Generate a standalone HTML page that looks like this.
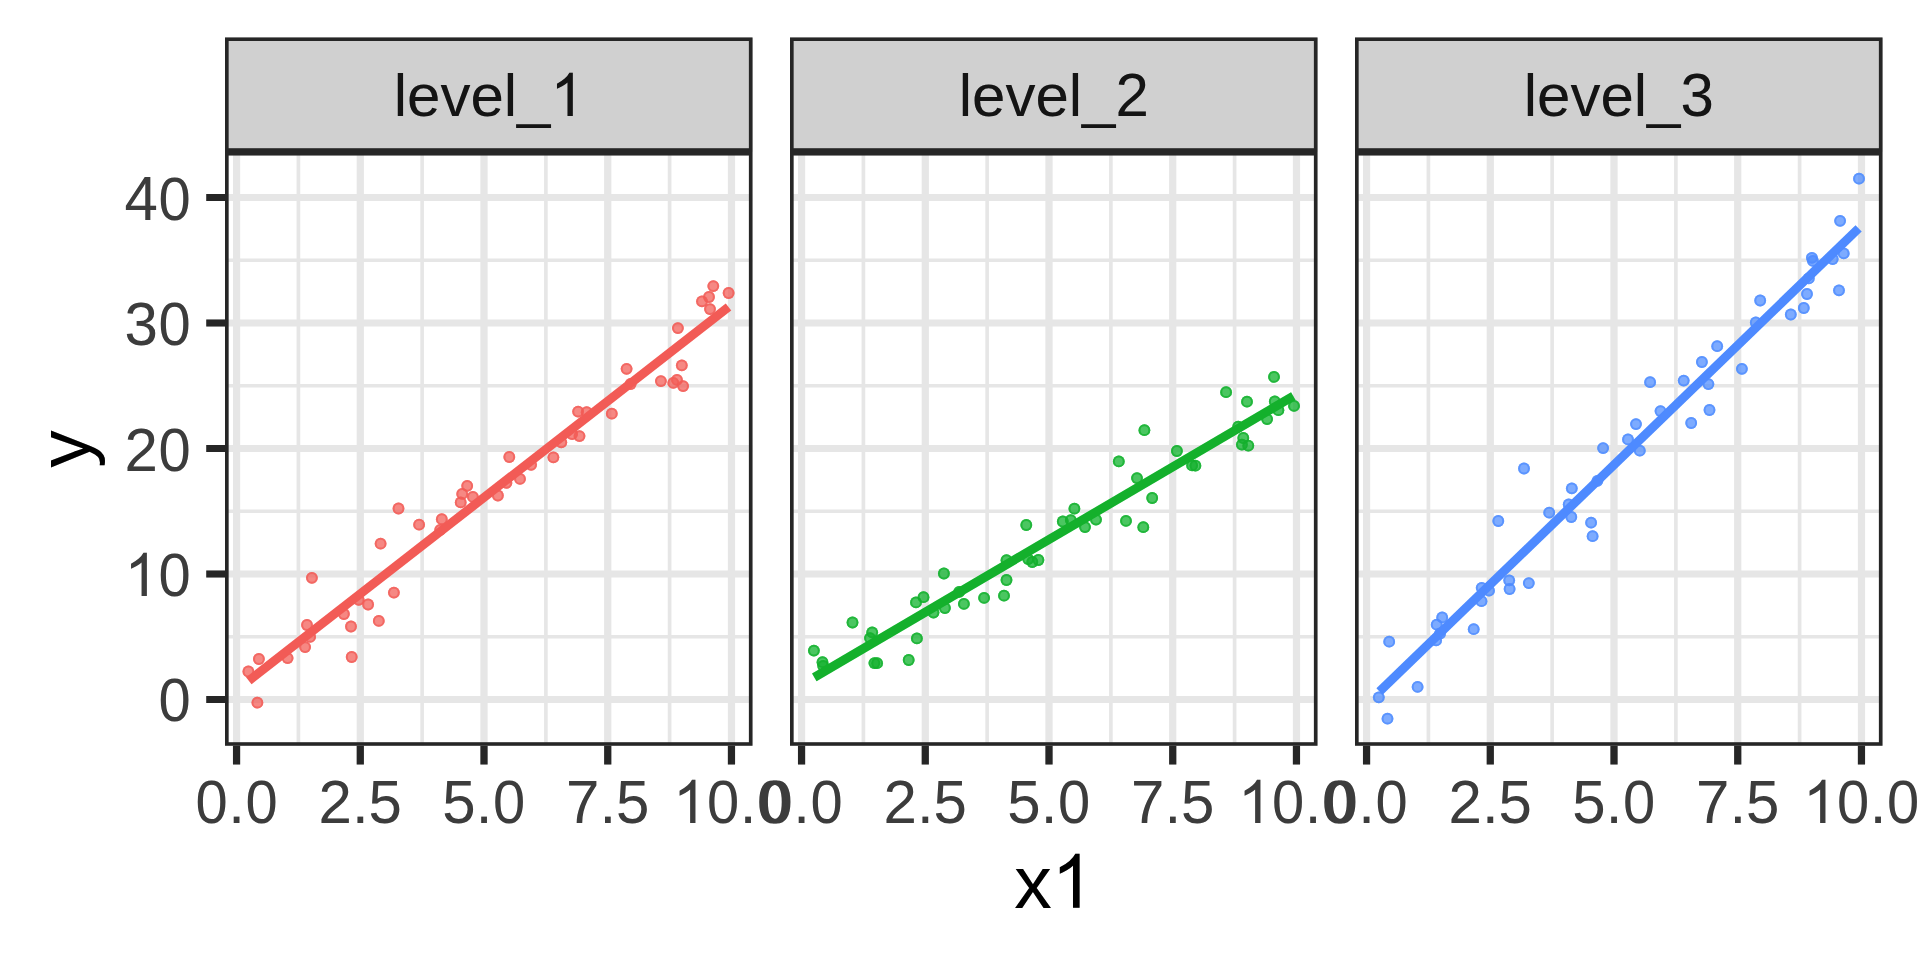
<!DOCTYPE html>
<html><head><meta charset="utf-8"><title>facet plot</title>
<style>html,body{margin:0;padding:0;background:#fff;width:1920px;height:960px;overflow:hidden}svg{display:block}text{font-family:"Liberation Sans",sans-serif;font-kerning:none}</style>
</head><body>
<svg width="1920" height="960" viewBox="0 0 1920 960">
<defs>
<clipPath id="c0"><rect x="225" y="151.8" width="527.5" height="594"/></clipPath>
<clipPath id="c1"><rect x="790" y="151.8" width="527.5" height="594"/></clipPath>
<clipPath id="c2"><rect x="1355" y="151.8" width="527.5" height="594"/></clipPath>
<filter id="gm" filterUnits="userSpaceOnUse" x="0" y="0" width="1920" height="960" color-interpolation-filters="sRGB"><feComponentTransfer><feFuncR type="table" tableValues="0 0.0111 0.0163 0.0205 0.024 0.0272 0.0301 0.0327 0.0353 0.0377 0.0399 0.0421 0.0444 0.0467 0.049 0.0514 0.0537 0.0561 0.0586 0.061 0.0635 0.066 0.0685 0.0711 0.0736 0.0762 0.0788 0.0815 0.0841 0.0868 0.0895 0.0922 0.095 0.0977 0.1005 0.1033 0.1061 0.109 0.1118 0.1147 0.1176 0.1205 0.1234 0.1264 0.1293 0.1323 0.1353 0.1383 0.1414 0.1444 0.1475 0.1506 0.1537 0.1568 0.1599 0.163 0.1662 0.1694 0.1726 0.1758 0.179 0.1822 0.1854 0.1887 0.192 0.1953 0.1986 0.2019 0.2052 0.2086 0.2119 0.2153 0.2187 0.2221 0.2255 0.2289 0.2323 0.2358 0.2392 0.2427 0.2462 0.2497 0.2532 0.2567 0.2603 0.2638 0.2674 0.2709 0.2745 0.2781 0.2817 0.2853 0.2889 0.2926 0.2962 0.2999 0.3036 0.3073 0.311 0.3147 0.3184 0.3221 0.3258 0.3296 0.3334 0.3371 0.3409 0.3447 0.3485 0.3523 0.3561 0.36 0.3638 0.3677 0.3715 0.3754 0.3793 0.3832 0.3871 0.391 0.3949 0.3989 0.4028 0.4068 0.4107 0.4147 0.4187 0.4227 0.4267 0.4307 0.4347 0.4387 0.4428 0.4468 0.4509 0.4549 0.459 0.4631 0.4672 0.4713 0.4754 0.4795 0.4837 0.4878 0.4919 0.4961 0.5003 0.5044 0.5086 0.5128 0.517 0.5212 0.5254 0.5296 0.5339 0.5381 0.5424 0.5466 0.5509 0.5552 0.5594 0.5637 0.568 0.5723 0.5767 0.581 0.5853 0.5897 0.594 0.5984 0.6027 0.6071 0.6115 0.6159 0.6202 0.6246 0.6291 0.6335 0.6379 0.6423 0.6468 0.6512 0.6557 0.6601 0.6646 0.6691 0.6736 0.6781 0.6826 0.6871 0.6916 0.6961 0.7007 0.7052 0.7097 0.7143 0.7188 0.7234 0.728 0.7326 0.7372 0.7418 0.7464 0.751 0.7556 0.7602 0.7648 0.7695 0.7741 0.7788 0.7834 0.7881 0.7928 0.7975 0.8021 0.8068 0.8115 0.8162 0.821 0.8257 0.8304 0.8351 0.8399 0.8446 0.8494 0.8542 0.8589 0.8637 0.8685 0.8733 0.8781 0.8829 0.8877 0.8925 0.8973 0.9021 0.907 0.9118 0.9166 0.9215 0.9264 0.9312 0.9361 0.941 0.9459 0.9507 0.9556 0.9605 0.9655 0.9704 0.9753 0.9802 0.9852 0.9901 0.995 1"/><feFuncG type="table" tableValues="0 0.0111 0.0163 0.0205 0.024 0.0272 0.0301 0.0327 0.0353 0.0377 0.0399 0.0421 0.0444 0.0467 0.049 0.0514 0.0537 0.0561 0.0586 0.061 0.0635 0.066 0.0685 0.0711 0.0736 0.0762 0.0788 0.0815 0.0841 0.0868 0.0895 0.0922 0.095 0.0977 0.1005 0.1033 0.1061 0.109 0.1118 0.1147 0.1176 0.1205 0.1234 0.1264 0.1293 0.1323 0.1353 0.1383 0.1414 0.1444 0.1475 0.1506 0.1537 0.1568 0.1599 0.163 0.1662 0.1694 0.1726 0.1758 0.179 0.1822 0.1854 0.1887 0.192 0.1953 0.1986 0.2019 0.2052 0.2086 0.2119 0.2153 0.2187 0.2221 0.2255 0.2289 0.2323 0.2358 0.2392 0.2427 0.2462 0.2497 0.2532 0.2567 0.2603 0.2638 0.2674 0.2709 0.2745 0.2781 0.2817 0.2853 0.2889 0.2926 0.2962 0.2999 0.3036 0.3073 0.311 0.3147 0.3184 0.3221 0.3258 0.3296 0.3334 0.3371 0.3409 0.3447 0.3485 0.3523 0.3561 0.36 0.3638 0.3677 0.3715 0.3754 0.3793 0.3832 0.3871 0.391 0.3949 0.3989 0.4028 0.4068 0.4107 0.4147 0.4187 0.4227 0.4267 0.4307 0.4347 0.4387 0.4428 0.4468 0.4509 0.4549 0.459 0.4631 0.4672 0.4713 0.4754 0.4795 0.4837 0.4878 0.4919 0.4961 0.5003 0.5044 0.5086 0.5128 0.517 0.5212 0.5254 0.5296 0.5339 0.5381 0.5424 0.5466 0.5509 0.5552 0.5594 0.5637 0.568 0.5723 0.5767 0.581 0.5853 0.5897 0.594 0.5984 0.6027 0.6071 0.6115 0.6159 0.6202 0.6246 0.6291 0.6335 0.6379 0.6423 0.6468 0.6512 0.6557 0.6601 0.6646 0.6691 0.6736 0.6781 0.6826 0.6871 0.6916 0.6961 0.7007 0.7052 0.7097 0.7143 0.7188 0.7234 0.728 0.7326 0.7372 0.7418 0.7464 0.751 0.7556 0.7602 0.7648 0.7695 0.7741 0.7788 0.7834 0.7881 0.7928 0.7975 0.8021 0.8068 0.8115 0.8162 0.821 0.8257 0.8304 0.8351 0.8399 0.8446 0.8494 0.8542 0.8589 0.8637 0.8685 0.8733 0.8781 0.8829 0.8877 0.8925 0.8973 0.9021 0.907 0.9118 0.9166 0.9215 0.9264 0.9312 0.9361 0.941 0.9459 0.9507 0.9556 0.9605 0.9655 0.9704 0.9753 0.9802 0.9852 0.9901 0.995 1"/><feFuncB type="table" tableValues="0 0.0111 0.0163 0.0205 0.024 0.0272 0.0301 0.0327 0.0353 0.0377 0.0399 0.0421 0.0444 0.0467 0.049 0.0514 0.0537 0.0561 0.0586 0.061 0.0635 0.066 0.0685 0.0711 0.0736 0.0762 0.0788 0.0815 0.0841 0.0868 0.0895 0.0922 0.095 0.0977 0.1005 0.1033 0.1061 0.109 0.1118 0.1147 0.1176 0.1205 0.1234 0.1264 0.1293 0.1323 0.1353 0.1383 0.1414 0.1444 0.1475 0.1506 0.1537 0.1568 0.1599 0.163 0.1662 0.1694 0.1726 0.1758 0.179 0.1822 0.1854 0.1887 0.192 0.1953 0.1986 0.2019 0.2052 0.2086 0.2119 0.2153 0.2187 0.2221 0.2255 0.2289 0.2323 0.2358 0.2392 0.2427 0.2462 0.2497 0.2532 0.2567 0.2603 0.2638 0.2674 0.2709 0.2745 0.2781 0.2817 0.2853 0.2889 0.2926 0.2962 0.2999 0.3036 0.3073 0.311 0.3147 0.3184 0.3221 0.3258 0.3296 0.3334 0.3371 0.3409 0.3447 0.3485 0.3523 0.3561 0.36 0.3638 0.3677 0.3715 0.3754 0.3793 0.3832 0.3871 0.391 0.3949 0.3989 0.4028 0.4068 0.4107 0.4147 0.4187 0.4227 0.4267 0.4307 0.4347 0.4387 0.4428 0.4468 0.4509 0.4549 0.459 0.4631 0.4672 0.4713 0.4754 0.4795 0.4837 0.4878 0.4919 0.4961 0.5003 0.5044 0.5086 0.5128 0.517 0.5212 0.5254 0.5296 0.5339 0.5381 0.5424 0.5466 0.5509 0.5552 0.5594 0.5637 0.568 0.5723 0.5767 0.581 0.5853 0.5897 0.594 0.5984 0.6027 0.6071 0.6115 0.6159 0.6202 0.6246 0.6291 0.6335 0.6379 0.6423 0.6468 0.6512 0.6557 0.6601 0.6646 0.6691 0.6736 0.6781 0.6826 0.6871 0.6916 0.6961 0.7007 0.7052 0.7097 0.7143 0.7188 0.7234 0.728 0.7326 0.7372 0.7418 0.7464 0.751 0.7556 0.7602 0.7648 0.7695 0.7741 0.7788 0.7834 0.7881 0.7928 0.7975 0.8021 0.8068 0.8115 0.8162 0.821 0.8257 0.8304 0.8351 0.8399 0.8446 0.8494 0.8542 0.8589 0.8637 0.8685 0.8733 0.8781 0.8829 0.8877 0.8925 0.8973 0.9021 0.907 0.9118 0.9166 0.9215 0.9264 0.9312 0.9361 0.941 0.9459 0.9507 0.9556 0.9605 0.9655 0.9704 0.9753 0.9802 0.9852 0.9901 0.995 1"/></feComponentTransfer></filter>
</defs>
<g filter="url(#gm)">
<rect x="0" y="0" width="1920" height="960" fill="#FFFFFF"/>
<g clip-path="url(#c0)">
<rect x="225" y="151.8" width="527.5" height="594" fill="#FFFFFF"/>
<path d="M225 636.75H752.5M225 511.25H752.5M225 385.75H752.5M225 260.25H752.5M298.42 151.8V745.8M422.15 151.8V745.8M545.87 151.8V745.8M669.6 151.8V745.8" stroke="#EBEBEB" stroke-width="3.6" fill="none"/>
<path d="M225 699.5H752.5M225 574H752.5M225 448.5H752.5M225 323H752.5M225 197.5H752.5M236.56 151.8V745.8M360.29 151.8V745.8M484.01 151.8V745.8M607.74 151.8V745.8M731.46 151.8V745.8" stroke="#EBEBEB" stroke-width="7.2" fill="none"/>
<g fill="#F56F6A" fill-opacity="0.7" stroke="#F56F6A" stroke-opacity="0.7" stroke-width="2">
<circle cx="248.4" cy="671.5" r="5.9" stroke="none"/><circle cx="248.4" cy="671.5" r="4.9" fill="none"/>
<circle cx="258.9" cy="659" r="5.9" stroke="none"/><circle cx="258.9" cy="659" r="4.9" fill="none"/>
<circle cx="257.4" cy="702.7" r="5.9" stroke="none"/><circle cx="257.4" cy="702.7" r="4.9" fill="none"/>
<circle cx="287.6" cy="658.1" r="5.9" stroke="none"/><circle cx="287.6" cy="658.1" r="4.9" fill="none"/>
<circle cx="305.1" cy="647.1" r="5.9" stroke="none"/><circle cx="305.1" cy="647.1" r="4.9" fill="none"/>
<circle cx="310.1" cy="636.9" r="5.9" stroke="none"/><circle cx="310.1" cy="636.9" r="4.9" fill="none"/>
<circle cx="307" cy="625" r="5.9" stroke="none"/><circle cx="307" cy="625" r="4.9" fill="none"/>
<circle cx="311.9" cy="577.8" r="5.9" stroke="none"/><circle cx="311.9" cy="577.8" r="4.9" fill="none"/>
<circle cx="343.9" cy="614" r="5.9" stroke="none"/><circle cx="343.9" cy="614" r="4.9" fill="none"/>
<circle cx="351" cy="626.5" r="5.9" stroke="none"/><circle cx="351" cy="626.5" r="4.9" fill="none"/>
<circle cx="351.7" cy="657" r="5.9" stroke="none"/><circle cx="351.7" cy="657" r="4.9" fill="none"/>
<circle cx="358.7" cy="599.8" r="5.9" stroke="none"/><circle cx="358.7" cy="599.8" r="4.9" fill="none"/>
<circle cx="368.1" cy="604.5" r="5.9" stroke="none"/><circle cx="368.1" cy="604.5" r="4.9" fill="none"/>
<circle cx="378.8" cy="620.9" r="5.9" stroke="none"/><circle cx="378.8" cy="620.9" r="4.9" fill="none"/>
<circle cx="393.9" cy="592.6" r="5.9" stroke="none"/><circle cx="393.9" cy="592.6" r="4.9" fill="none"/>
<circle cx="380.6" cy="543.7" r="5.9" stroke="none"/><circle cx="380.6" cy="543.7" r="4.9" fill="none"/>
<circle cx="398.5" cy="508.5" r="5.9" stroke="none"/><circle cx="398.5" cy="508.5" r="4.9" fill="none"/>
<circle cx="419.1" cy="524.7" r="5.9" stroke="none"/><circle cx="419.1" cy="524.7" r="4.9" fill="none"/>
<circle cx="441.8" cy="519.2" r="5.9" stroke="none"/><circle cx="441.8" cy="519.2" r="4.9" fill="none"/>
<circle cx="440.2" cy="529.8" r="5.9" stroke="none"/><circle cx="440.2" cy="529.8" r="4.9" fill="none"/>
<circle cx="460.7" cy="502.4" r="5.9" stroke="none"/><circle cx="460.7" cy="502.4" r="4.9" fill="none"/>
<circle cx="462.2" cy="493.9" r="5.9" stroke="none"/><circle cx="462.2" cy="493.9" r="4.9" fill="none"/>
<circle cx="467.2" cy="485.8" r="5.9" stroke="none"/><circle cx="467.2" cy="485.8" r="4.9" fill="none"/>
<circle cx="472.9" cy="496.9" r="5.9" stroke="none"/><circle cx="472.9" cy="496.9" r="4.9" fill="none"/>
<circle cx="497.9" cy="495.5" r="5.9" stroke="none"/><circle cx="497.9" cy="495.5" r="4.9" fill="none"/>
<circle cx="506.4" cy="482.9" r="5.9" stroke="none"/><circle cx="506.4" cy="482.9" r="4.9" fill="none"/>
<circle cx="509.3" cy="457" r="5.9" stroke="none"/><circle cx="509.3" cy="457" r="4.9" fill="none"/>
<circle cx="520" cy="478.9" r="5.9" stroke="none"/><circle cx="520" cy="478.9" r="4.9" fill="none"/>
<circle cx="531.1" cy="464.8" r="5.9" stroke="none"/><circle cx="531.1" cy="464.8" r="4.9" fill="none"/>
<circle cx="553.4" cy="457.3" r="5.9" stroke="none"/><circle cx="553.4" cy="457.3" r="4.9" fill="none"/>
<circle cx="561.3" cy="442.3" r="5.9" stroke="none"/><circle cx="561.3" cy="442.3" r="4.9" fill="none"/>
<circle cx="572.1" cy="434" r="5.9" stroke="none"/><circle cx="572.1" cy="434" r="4.9" fill="none"/>
<circle cx="579.5" cy="436.1" r="5.9" stroke="none"/><circle cx="579.5" cy="436.1" r="4.9" fill="none"/>
<circle cx="578.1" cy="411.6" r="5.9" stroke="none"/><circle cx="578.1" cy="411.6" r="4.9" fill="none"/>
<circle cx="586.7" cy="412.2" r="5.9" stroke="none"/><circle cx="586.7" cy="412.2" r="4.9" fill="none"/>
<circle cx="611.8" cy="413.7" r="5.9" stroke="none"/><circle cx="611.8" cy="413.7" r="4.9" fill="none"/>
<circle cx="626.6" cy="368.8" r="5.9" stroke="none"/><circle cx="626.6" cy="368.8" r="4.9" fill="none"/>
<circle cx="630.6" cy="384" r="5.9" stroke="none"/><circle cx="630.6" cy="384" r="4.9" fill="none"/>
<circle cx="660.9" cy="381.1" r="5.9" stroke="none"/><circle cx="660.9" cy="381.1" r="4.9" fill="none"/>
<circle cx="673.3" cy="382.9" r="5.9" stroke="none"/><circle cx="673.3" cy="382.9" r="4.9" fill="none"/>
<circle cx="677" cy="379.9" r="5.9" stroke="none"/><circle cx="677" cy="379.9" r="4.9" fill="none"/>
<circle cx="683.1" cy="386.1" r="5.9" stroke="none"/><circle cx="683.1" cy="386.1" r="4.9" fill="none"/>
<circle cx="681.8" cy="365.3" r="5.9" stroke="none"/><circle cx="681.8" cy="365.3" r="4.9" fill="none"/>
<circle cx="677.9" cy="328.1" r="5.9" stroke="none"/><circle cx="677.9" cy="328.1" r="4.9" fill="none"/>
<circle cx="702" cy="301.3" r="5.9" stroke="none"/><circle cx="702" cy="301.3" r="4.9" fill="none"/>
<circle cx="709" cy="297" r="5.9" stroke="none"/><circle cx="709" cy="297" r="4.9" fill="none"/>
<circle cx="713.3" cy="286.1" r="5.9" stroke="none"/><circle cx="713.3" cy="286.1" r="4.9" fill="none"/>
<circle cx="710" cy="309.1" r="5.9" stroke="none"/><circle cx="710" cy="309.1" r="4.9" fill="none"/>
<circle cx="728.6" cy="293" r="5.9" stroke="none"/><circle cx="728.6" cy="293" r="4.9" fill="none"/>
</g>
<path d="M248.8 680.7L728.5 307" stroke="#F56F6A" stroke-width="8.9" stroke-linecap="butt" fill="none"/>
</g>
<rect x="225" y="37.5" width="527.5" height="114.3" fill="#D9D9D9"/>
<path fill-rule="evenodd" d="M225 37.5H752.5V745.8H225ZM228.6 41.1H748.9V148.2H228.6ZM228.6 155.4H748.9V742.2H228.6Z" fill="#333333"/>
<g font-size="60" fill="#1A1A1A"><text x="393.68" y="116">l</text><text x="407.01" y="116">e</text><text x="440.38" y="116">v</text><text x="470.38" y="116">e</text><text x="503.75" y="116">l</text><text x="517.08" y="116">_</text><path transform="translate(550.45 116) scale(0.029297 -0.029297)" d="M763 0L583 0L583 1147Q518 1085 412.5 1023Q307 961 223 930L223 1104Q374 1175 487 1276Q600 1377 647 1472L763 1472Z"/></g>
<path d="M236.56 745.8V764.55M360.29 745.8V764.55M484.01 745.8V764.55M607.74 745.8V764.55M731.46 745.8V764.55" stroke="#333333" stroke-width="7.2" fill="none"/>
<g font-size="60" fill="#4D4D4D"><text x="194.86" y="823" transform="matrix(0.9650 0 0 1.0240 7.404 -19.752)">0</text><text x="228.23" y="823">.</text><text x="244.89" y="823" transform="matrix(0.9650 0 0 1.0240 9.155 -19.752)">0</text></g>
<g font-size="60" fill="#4D4D4D"><text x="318.58" y="823" transform="matrix(1.0000 0 0 1.0200 -0.000 -16.460)">2</text><text x="351.95" y="823">.</text><text x="368.62" y="823" transform="matrix(1.0000 0 0 1.0150 -0.000 -12.345)">5</text></g>
<g font-size="60" fill="#4D4D4D"><text x="442.31" y="823" transform="matrix(1.0000 0 0 1.0150 -0.000 -12.345)">5</text><text x="475.68" y="823">.</text><text x="492.34" y="823" transform="matrix(0.9650 0 0 1.0240 17.816 -19.752)">0</text></g>
<g font-size="60" fill="#4D4D4D"><text x="566.03" y="823" transform="matrix(1.0000 0 0 1.0150 -0.000 -12.345)">7</text><text x="599.4" y="823">.</text><text x="616.07" y="823" transform="matrix(1.0000 0 0 1.0150 -0.000 -12.345)">5</text></g>
<g font-size="60" fill="#4D4D4D"><path transform="translate(673.07 823) scale(0.029297 -0.029297)" d="M763 0L583 0L583 1147Q518 1085 412.5 1023Q307 961 223 930L223 1104Q374 1175 487 1276Q600 1377 647 1472L763 1472Z"/><text x="706.44" y="823" transform="matrix(0.9650 0 0 1.0240 25.309 -19.752)">0</text><text x="739.81" y="823">.</text><text x="756.48" y="823" transform="matrix(0.9650 0 0 1.0240 27.061 -19.752)">0</text></g>
<g clip-path="url(#c1)">
<rect x="790" y="151.8" width="527.5" height="594" fill="#FFFFFF"/>
<path d="M790 636.75H1317.5M790 511.25H1317.5M790 385.75H1317.5M790 260.25H1317.5M863.42 151.8V745.8M987.15 151.8V745.8M1110.87 151.8V745.8M1234.6 151.8V745.8" stroke="#EBEBEB" stroke-width="3.6" fill="none"/>
<path d="M790 699.5H1317.5M790 574H1317.5M790 448.5H1317.5M790 323H1317.5M790 197.5H1317.5M801.56 151.8V745.8M925.28 151.8V745.8M1049.01 151.8V745.8M1172.73 151.8V745.8M1296.46 151.8V745.8" stroke="#EBEBEB" stroke-width="7.2" fill="none"/>
<g fill="#1ABE3A" fill-opacity="0.7" stroke="#1ABE3A" stroke-opacity="0.7" stroke-width="2">
<circle cx="813.9" cy="650.6" r="5.9" stroke="none"/><circle cx="813.9" cy="650.6" r="4.9" fill="none"/>
<circle cx="822.5" cy="662.2" r="5.9" stroke="none"/><circle cx="822.5" cy="662.2" r="4.9" fill="none"/>
<circle cx="823.2" cy="666" r="5.9" stroke="none"/><circle cx="823.2" cy="666" r="4.9" fill="none"/>
<circle cx="852.5" cy="622.5" r="5.9" stroke="none"/><circle cx="852.5" cy="622.5" r="4.9" fill="none"/>
<circle cx="872.2" cy="632.3" r="5.9" stroke="none"/><circle cx="872.2" cy="632.3" r="4.9" fill="none"/>
<circle cx="870" cy="638.1" r="5.9" stroke="none"/><circle cx="870" cy="638.1" r="4.9" fill="none"/>
<circle cx="874.4" cy="663.1" r="5.9" stroke="none"/><circle cx="874.4" cy="663.1" r="4.9" fill="none"/>
<circle cx="877.1" cy="663.2" r="5.9" stroke="none"/><circle cx="877.1" cy="663.2" r="4.9" fill="none"/>
<circle cx="908.7" cy="660" r="5.9" stroke="none"/><circle cx="908.7" cy="660" r="4.9" fill="none"/>
<circle cx="916.9" cy="638.4" r="5.9" stroke="none"/><circle cx="916.9" cy="638.4" r="4.9" fill="none"/>
<circle cx="916" cy="602.4" r="5.9" stroke="none"/><circle cx="916" cy="602.4" r="4.9" fill="none"/>
<circle cx="923.5" cy="597.2" r="5.9" stroke="none"/><circle cx="923.5" cy="597.2" r="4.9" fill="none"/>
<circle cx="933.5" cy="612.6" r="5.9" stroke="none"/><circle cx="933.5" cy="612.6" r="4.9" fill="none"/>
<circle cx="944.9" cy="608" r="5.9" stroke="none"/><circle cx="944.9" cy="608" r="4.9" fill="none"/>
<circle cx="943.9" cy="573.5" r="5.9" stroke="none"/><circle cx="943.9" cy="573.5" r="4.9" fill="none"/>
<circle cx="959.2" cy="591.9" r="5.9" stroke="none"/><circle cx="959.2" cy="591.9" r="4.9" fill="none"/>
<circle cx="963.9" cy="603.9" r="5.9" stroke="none"/><circle cx="963.9" cy="603.9" r="4.9" fill="none"/>
<circle cx="984.1" cy="597.9" r="5.9" stroke="none"/><circle cx="984.1" cy="597.9" r="4.9" fill="none"/>
<circle cx="1004" cy="595.7" r="5.9" stroke="none"/><circle cx="1004" cy="595.7" r="4.9" fill="none"/>
<circle cx="1006.5" cy="580" r="5.9" stroke="none"/><circle cx="1006.5" cy="580" r="4.9" fill="none"/>
<circle cx="1006.5" cy="560.2" r="5.9" stroke="none"/><circle cx="1006.5" cy="560.2" r="4.9" fill="none"/>
<circle cx="1026.3" cy="525" r="5.9" stroke="none"/><circle cx="1026.3" cy="525" r="4.9" fill="none"/>
<circle cx="1028.2" cy="559.1" r="5.9" stroke="none"/><circle cx="1028.2" cy="559.1" r="4.9" fill="none"/>
<circle cx="1032.3" cy="562" r="5.9" stroke="none"/><circle cx="1032.3" cy="562" r="4.9" fill="none"/>
<circle cx="1038.4" cy="560" r="5.9" stroke="none"/><circle cx="1038.4" cy="560" r="4.9" fill="none"/>
<circle cx="1062.8" cy="521.5" r="5.9" stroke="none"/><circle cx="1062.8" cy="521.5" r="4.9" fill="none"/>
<circle cx="1070.8" cy="520.1" r="5.9" stroke="none"/><circle cx="1070.8" cy="520.1" r="4.9" fill="none"/>
<circle cx="1074.4" cy="508.7" r="5.9" stroke="none"/><circle cx="1074.4" cy="508.7" r="4.9" fill="none"/>
<circle cx="1085" cy="527.1" r="5.9" stroke="none"/><circle cx="1085" cy="527.1" r="4.9" fill="none"/>
<circle cx="1096" cy="519.6" r="5.9" stroke="none"/><circle cx="1096" cy="519.6" r="4.9" fill="none"/>
<circle cx="1118.8" cy="461.4" r="5.9" stroke="none"/><circle cx="1118.8" cy="461.4" r="4.9" fill="none"/>
<circle cx="1126" cy="520.9" r="5.9" stroke="none"/><circle cx="1126" cy="520.9" r="4.9" fill="none"/>
<circle cx="1137" cy="478.1" r="5.9" stroke="none"/><circle cx="1137" cy="478.1" r="4.9" fill="none"/>
<circle cx="1143.3" cy="527.2" r="5.9" stroke="none"/><circle cx="1143.3" cy="527.2" r="4.9" fill="none"/>
<circle cx="1144.4" cy="430.2" r="5.9" stroke="none"/><circle cx="1144.4" cy="430.2" r="4.9" fill="none"/>
<circle cx="1152.2" cy="498" r="5.9" stroke="none"/><circle cx="1152.2" cy="498" r="4.9" fill="none"/>
<circle cx="1176.9" cy="451" r="5.9" stroke="none"/><circle cx="1176.9" cy="451" r="4.9" fill="none"/>
<circle cx="1192.1" cy="465.4" r="5.9" stroke="none"/><circle cx="1192.1" cy="465.4" r="4.9" fill="none"/>
<circle cx="1195.4" cy="465.7" r="5.9" stroke="none"/><circle cx="1195.4" cy="465.7" r="4.9" fill="none"/>
<circle cx="1226.1" cy="392.2" r="5.9" stroke="none"/><circle cx="1226.1" cy="392.2" r="4.9" fill="none"/>
<circle cx="1238.2" cy="426.7" r="5.9" stroke="none"/><circle cx="1238.2" cy="426.7" r="4.9" fill="none"/>
<circle cx="1243.3" cy="438" r="5.9" stroke="none"/><circle cx="1243.3" cy="438" r="4.9" fill="none"/>
<circle cx="1241.9" cy="444.6" r="5.9" stroke="none"/><circle cx="1241.9" cy="444.6" r="4.9" fill="none"/>
<circle cx="1248.3" cy="445.7" r="5.9" stroke="none"/><circle cx="1248.3" cy="445.7" r="4.9" fill="none"/>
<circle cx="1247" cy="401.7" r="5.9" stroke="none"/><circle cx="1247" cy="401.7" r="4.9" fill="none"/>
<circle cx="1267.1" cy="419.1" r="5.9" stroke="none"/><circle cx="1267.1" cy="419.1" r="4.9" fill="none"/>
<circle cx="1274" cy="376.9" r="5.9" stroke="none"/><circle cx="1274" cy="376.9" r="4.9" fill="none"/>
<circle cx="1274.8" cy="401.4" r="5.9" stroke="none"/><circle cx="1274.8" cy="401.4" r="4.9" fill="none"/>
<circle cx="1278.4" cy="410.2" r="5.9" stroke="none"/><circle cx="1278.4" cy="410.2" r="4.9" fill="none"/>
<circle cx="1294" cy="405.9" r="5.9" stroke="none"/><circle cx="1294" cy="405.9" r="4.9" fill="none"/>
</g>
<path d="M814.3 677.4L1293.3 396.1" stroke="#1ABE3A" stroke-width="8.9" stroke-linecap="butt" fill="none"/>
</g>
<rect x="790" y="37.5" width="527.5" height="114.3" fill="#D9D9D9"/>
<path fill-rule="evenodd" d="M790 37.5H1317.5V745.8H790ZM793.6 41.1H1313.9V148.2H793.6ZM793.6 155.4H1313.9V742.2H793.6Z" fill="#333333"/>
<g font-size="60" fill="#1A1A1A"><text x="958.68" y="116">l</text><text x="972.01" y="116">e</text><text x="1005.38" y="116">v</text><text x="1035.38" y="116">e</text><text x="1068.75" y="116">l</text><text x="1082.08" y="116">_</text><text x="1115.45" y="116" transform="matrix(1.0000 0 0 1.0200 -0.000 -2.320)">2</text></g>
<path d="M801.56 745.8V764.55M925.28 745.8V764.55M1049.01 745.8V764.55M1172.73 745.8V764.55M1296.46 745.8V764.55" stroke="#333333" stroke-width="7.2" fill="none"/>
<g font-size="60" fill="#4D4D4D"><text x="759.86" y="823" transform="matrix(0.9650 0 0 1.0240 27.179 -19.752)">0</text><text x="793.23" y="823">.</text><text x="809.89" y="823" transform="matrix(0.9650 0 0 1.0240 28.930 -19.752)">0</text></g>
<g font-size="60" fill="#4D4D4D"><text x="883.58" y="823" transform="matrix(1.0000 0 0 1.0200 -0.000 -16.460)">2</text><text x="916.95" y="823">.</text><text x="933.62" y="823" transform="matrix(1.0000 0 0 1.0150 -0.000 -12.345)">5</text></g>
<g font-size="60" fill="#4D4D4D"><text x="1007.31" y="823" transform="matrix(1.0000 0 0 1.0150 -0.000 -12.345)">5</text><text x="1040.68" y="823">.</text><text x="1057.34" y="823" transform="matrix(0.9650 0 0 1.0240 37.591 -19.752)">0</text></g>
<g font-size="60" fill="#4D4D4D"><text x="1131.03" y="823" transform="matrix(1.0000 0 0 1.0150 -0.000 -12.345)">7</text><text x="1164.4" y="823">.</text><text x="1181.07" y="823" transform="matrix(1.0000 0 0 1.0150 -0.000 -12.345)">5</text></g>
<g font-size="60" fill="#4D4D4D"><path transform="translate(1238.07 823) scale(0.029297 -0.029297)" d="M763 0L583 0L583 1147Q518 1085 412.5 1023Q307 961 223 930L223 1104Q374 1175 487 1276Q600 1377 647 1472L763 1472Z"/><text x="1271.44" y="823" transform="matrix(0.9650 0 0 1.0240 45.084 -19.752)">0</text><text x="1304.81" y="823">.</text><text x="1321.48" y="823" transform="matrix(0.9650 0 0 1.0240 46.836 -19.752)">0</text></g>
<g clip-path="url(#c2)">
<rect x="1355" y="151.8" width="527.5" height="594" fill="#FFFFFF"/>
<path d="M1355 636.75H1882.5M1355 511.25H1882.5M1355 385.75H1882.5M1355 260.25H1882.5M1428.42 151.8V745.8M1552.15 151.8V745.8M1675.87 151.8V745.8M1799.6 151.8V745.8" stroke="#EBEBEB" stroke-width="3.6" fill="none"/>
<path d="M1355 699.5H1882.5M1355 574H1882.5M1355 448.5H1882.5M1355 323H1882.5M1355 197.5H1882.5M1366.56 151.8V745.8M1490.28 151.8V745.8M1614.01 151.8V745.8M1737.73 151.8V745.8M1861.46 151.8V745.8" stroke="#EBEBEB" stroke-width="7.2" fill="none"/>
<g fill="#619CFF" fill-opacity="0.7" stroke="#619CFF" stroke-opacity="0.7" stroke-width="2">
<circle cx="1378.8" cy="697.3" r="5.9" stroke="none"/><circle cx="1378.8" cy="697.3" r="4.9" fill="none"/>
<circle cx="1387.5" cy="718.7" r="5.9" stroke="none"/><circle cx="1387.5" cy="718.7" r="4.9" fill="none"/>
<circle cx="1389.2" cy="641.7" r="5.9" stroke="none"/><circle cx="1389.2" cy="641.7" r="4.9" fill="none"/>
<circle cx="1417.6" cy="686.9" r="5.9" stroke="none"/><circle cx="1417.6" cy="686.9" r="4.9" fill="none"/>
<circle cx="1436.1" cy="640.4" r="5.9" stroke="none"/><circle cx="1436.1" cy="640.4" r="4.9" fill="none"/>
<circle cx="1440.1" cy="633.5" r="5.9" stroke="none"/><circle cx="1440.1" cy="633.5" r="4.9" fill="none"/>
<circle cx="1436.7" cy="624.7" r="5.9" stroke="none"/><circle cx="1436.7" cy="624.7" r="4.9" fill="none"/>
<circle cx="1442.2" cy="617.4" r="5.9" stroke="none"/><circle cx="1442.2" cy="617.4" r="4.9" fill="none"/>
<circle cx="1473.7" cy="629.2" r="5.9" stroke="none"/><circle cx="1473.7" cy="629.2" r="4.9" fill="none"/>
<circle cx="1481.5" cy="601.2" r="5.9" stroke="none"/><circle cx="1481.5" cy="601.2" r="4.9" fill="none"/>
<circle cx="1481.7" cy="587.8" r="5.9" stroke="none"/><circle cx="1481.7" cy="587.8" r="4.9" fill="none"/>
<circle cx="1489" cy="590.7" r="5.9" stroke="none"/><circle cx="1489" cy="590.7" r="4.9" fill="none"/>
<circle cx="1509.2" cy="580.3" r="5.9" stroke="none"/><circle cx="1509.2" cy="580.3" r="4.9" fill="none"/>
<circle cx="1509.6" cy="589" r="5.9" stroke="none"/><circle cx="1509.6" cy="589" r="4.9" fill="none"/>
<circle cx="1528.8" cy="583.1" r="5.9" stroke="none"/><circle cx="1528.8" cy="583.1" r="4.9" fill="none"/>
<circle cx="1498.3" cy="521" r="5.9" stroke="none"/><circle cx="1498.3" cy="521" r="4.9" fill="none"/>
<circle cx="1524" cy="468.5" r="5.9" stroke="none"/><circle cx="1524" cy="468.5" r="4.9" fill="none"/>
<circle cx="1549.2" cy="512.7" r="5.9" stroke="none"/><circle cx="1549.2" cy="512.7" r="4.9" fill="none"/>
<circle cx="1568.7" cy="504.5" r="5.9" stroke="none"/><circle cx="1568.7" cy="504.5" r="4.9" fill="none"/>
<circle cx="1571.8" cy="488.3" r="5.9" stroke="none"/><circle cx="1571.8" cy="488.3" r="4.9" fill="none"/>
<circle cx="1571.3" cy="517" r="5.9" stroke="none"/><circle cx="1571.3" cy="517" r="4.9" fill="none"/>
<circle cx="1591.1" cy="522.7" r="5.9" stroke="none"/><circle cx="1591.1" cy="522.7" r="4.9" fill="none"/>
<circle cx="1592.6" cy="536.2" r="5.9" stroke="none"/><circle cx="1592.6" cy="536.2" r="4.9" fill="none"/>
<circle cx="1597.4" cy="480.8" r="5.9" stroke="none"/><circle cx="1597.4" cy="480.8" r="4.9" fill="none"/>
<circle cx="1603.1" cy="448.1" r="5.9" stroke="none"/><circle cx="1603.1" cy="448.1" r="4.9" fill="none"/>
<circle cx="1628" cy="439.4" r="5.9" stroke="none"/><circle cx="1628" cy="439.4" r="4.9" fill="none"/>
<circle cx="1636" cy="424.1" r="5.9" stroke="none"/><circle cx="1636" cy="424.1" r="4.9" fill="none"/>
<circle cx="1639.8" cy="450.7" r="5.9" stroke="none"/><circle cx="1639.8" cy="450.7" r="4.9" fill="none"/>
<circle cx="1660.5" cy="411.1" r="5.9" stroke="none"/><circle cx="1660.5" cy="411.1" r="4.9" fill="none"/>
<circle cx="1650.1" cy="382.2" r="5.9" stroke="none"/><circle cx="1650.1" cy="382.2" r="4.9" fill="none"/>
<circle cx="1683.7" cy="380.6" r="5.9" stroke="none"/><circle cx="1683.7" cy="380.6" r="4.9" fill="none"/>
<circle cx="1691.2" cy="423" r="5.9" stroke="none"/><circle cx="1691.2" cy="423" r="4.9" fill="none"/>
<circle cx="1701.9" cy="362" r="5.9" stroke="none"/><circle cx="1701.9" cy="362" r="4.9" fill="none"/>
<circle cx="1708.4" cy="384.1" r="5.9" stroke="none"/><circle cx="1708.4" cy="384.1" r="4.9" fill="none"/>
<circle cx="1709.5" cy="410" r="5.9" stroke="none"/><circle cx="1709.5" cy="410" r="4.9" fill="none"/>
<circle cx="1717.2" cy="346.2" r="5.9" stroke="none"/><circle cx="1717.2" cy="346.2" r="4.9" fill="none"/>
<circle cx="1741.9" cy="368.8" r="5.9" stroke="none"/><circle cx="1741.9" cy="368.8" r="4.9" fill="none"/>
<circle cx="1755.8" cy="322.5" r="5.9" stroke="none"/><circle cx="1755.8" cy="322.5" r="4.9" fill="none"/>
<circle cx="1760.2" cy="300.5" r="5.9" stroke="none"/><circle cx="1760.2" cy="300.5" r="4.9" fill="none"/>
<circle cx="1790.8" cy="314.5" r="5.9" stroke="none"/><circle cx="1790.8" cy="314.5" r="4.9" fill="none"/>
<circle cx="1803.8" cy="308" r="5.9" stroke="none"/><circle cx="1803.8" cy="308" r="4.9" fill="none"/>
<circle cx="1807" cy="294" r="5.9" stroke="none"/><circle cx="1807" cy="294" r="4.9" fill="none"/>
<circle cx="1808.8" cy="278.4" r="5.9" stroke="none"/><circle cx="1808.8" cy="278.4" r="4.9" fill="none"/>
<circle cx="1811.9" cy="257.8" r="5.9" stroke="none"/><circle cx="1811.9" cy="257.8" r="4.9" fill="none"/>
<circle cx="1812.9" cy="260.9" r="5.9" stroke="none"/><circle cx="1812.9" cy="260.9" r="4.9" fill="none"/>
<circle cx="1832.7" cy="259" r="5.9" stroke="none"/><circle cx="1832.7" cy="259" r="4.9" fill="none"/>
<circle cx="1843.7" cy="253.4" r="5.9" stroke="none"/><circle cx="1843.7" cy="253.4" r="4.9" fill="none"/>
<circle cx="1839" cy="290.3" r="5.9" stroke="none"/><circle cx="1839" cy="290.3" r="4.9" fill="none"/>
<circle cx="1840.1" cy="220.8" r="5.9" stroke="none"/><circle cx="1840.1" cy="220.8" r="4.9" fill="none"/>
<circle cx="1859" cy="178.7" r="5.9" stroke="none"/><circle cx="1859" cy="178.7" r="4.9" fill="none"/>
</g>
<path d="M1379.5 691.5L1858.6 228.4" stroke="#619CFF" stroke-width="8.9" stroke-linecap="butt" fill="none"/>
</g>
<rect x="1355" y="37.5" width="527.5" height="114.3" fill="#D9D9D9"/>
<path fill-rule="evenodd" d="M1355 37.5H1882.5V745.8H1355ZM1358.6 41.1H1878.9V148.2H1358.6ZM1358.6 155.4H1878.9V742.2H1358.6Z" fill="#333333"/>
<g font-size="60" fill="#1A1A1A"><text x="1523.68" y="116">l</text><text x="1537.01" y="116">e</text><text x="1570.38" y="116">v</text><text x="1600.38" y="116">e</text><text x="1633.75" y="116">l</text><text x="1647.08" y="116">_</text><text x="1680.45" y="116" transform="matrix(1.0000 0 0 1.0300 -0.000 -3.480)">3</text></g>
<path d="M1366.56 745.8V764.55M1490.28 745.8V764.55M1614.01 745.8V764.55M1737.73 745.8V764.55M1861.46 745.8V764.55" stroke="#333333" stroke-width="7.2" fill="none"/>
<g font-size="60" fill="#4D4D4D"><text x="1324.86" y="823" transform="matrix(0.9650 0 0 1.0240 46.954 -19.752)">0</text><text x="1358.23" y="823">.</text><text x="1374.89" y="823" transform="matrix(0.9650 0 0 1.0240 48.705 -19.752)">0</text></g>
<g font-size="60" fill="#4D4D4D"><text x="1448.58" y="823" transform="matrix(1.0000 0 0 1.0200 -0.000 -16.460)">2</text><text x="1481.95" y="823">.</text><text x="1498.62" y="823" transform="matrix(1.0000 0 0 1.0150 -0.000 -12.345)">5</text></g>
<g font-size="60" fill="#4D4D4D"><text x="1572.31" y="823" transform="matrix(1.0000 0 0 1.0150 -0.000 -12.345)">5</text><text x="1605.68" y="823">.</text><text x="1622.34" y="823" transform="matrix(0.9650 0 0 1.0240 57.366 -19.752)">0</text></g>
<g font-size="60" fill="#4D4D4D"><text x="1696.03" y="823" transform="matrix(1.0000 0 0 1.0150 -0.000 -12.345)">7</text><text x="1729.4" y="823">.</text><text x="1746.07" y="823" transform="matrix(1.0000 0 0 1.0150 -0.000 -12.345)">5</text></g>
<g font-size="60" fill="#4D4D4D"><path transform="translate(1803.07 823) scale(0.029297 -0.029297)" d="M763 0L583 0L583 1147Q518 1085 412.5 1023Q307 961 223 930L223 1104Q374 1175 487 1276Q600 1377 647 1472L763 1472Z"/><text x="1836.44" y="823" transform="matrix(0.9650 0 0 1.0240 64.859 -19.752)">0</text><text x="1869.81" y="823">.</text><text x="1886.48" y="823" transform="matrix(0.9650 0 0 1.0240 66.611 -19.752)">0</text></g>
<path d="M206.25 699.5H225M206.25 574H225M206.25 448.5H225M206.25 323H225M206.25 197.5H225" stroke="#333333" stroke-width="7.2" fill="none"/>
<g font-size="60" fill="#4D4D4D"><text x="157.88" y="721" transform="matrix(0.9650 0 0 1.0240 6.110 -17.304)">0</text></g>
<g font-size="60" fill="#4D4D4D"><path transform="translate(124.51 596) scale(0.029297 -0.029297)" d="M763 0L583 0L583 1147Q518 1085 412.5 1023Q307 961 223 930L223 1104Q374 1175 487 1276Q600 1377 647 1472L763 1472Z"/><text x="157.88" y="596" transform="matrix(0.9650 0 0 1.0240 6.110 -14.304)">0</text></g>
<g font-size="60" fill="#4D4D4D"><text x="124.51" y="471" transform="matrix(1.0000 0 0 1.0200 -0.000 -9.420)">2</text><text x="157.88" y="471" transform="matrix(0.9650 0 0 1.0240 6.110 -11.304)">0</text></g>
<g font-size="60" fill="#4D4D4D"><text x="124.51" y="345" transform="matrix(1.0000 0 0 1.0300 -0.000 -10.350)">3</text><text x="157.88" y="345" transform="matrix(0.9650 0 0 1.0240 6.110 -8.280)">0</text></g>
<g font-size="60" fill="#4D4D4D"><text x="124.51" y="220" transform="matrix(1.0000 0 0 1.0390 -0.000 -8.580)">4</text><text x="157.88" y="220" transform="matrix(0.9650 0 0 1.0240 6.110 -5.280)">0</text></g>
<g font-size="75" fill="#000000"><text x="1014.14" y="907.7">x</text><path transform="translate(1051.64 907.7) scale(0.036621 -0.036621)" d="M763 0L583 0L583 1147Q518 1085 412.5 1023Q307 961 223 930L223 1104Q374 1175 487 1276Q600 1377 647 1472L763 1472Z"/></g>
<text transform="translate(90,449) rotate(-90)" x="0" y="0" font-size="75" fill="#000000" text-anchor="middle">y</text>
</g>
</svg>
</body></html>
